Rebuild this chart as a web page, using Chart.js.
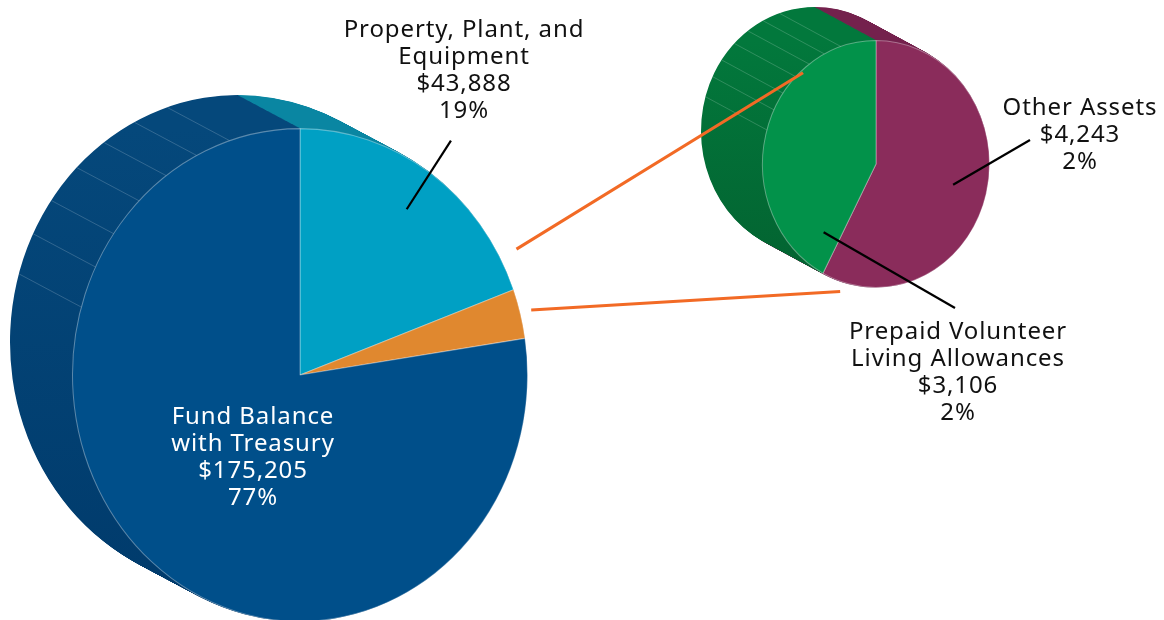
<!DOCTYPE html>
<html><head><meta charset="utf-8">
<script src="https://cdn.jsdelivr.net/npm/chart.js@4/dist/chart.umd.min.js"></script>
<style>
html,body{margin:0;padding:0;background:#fff;overflow:hidden;}
#wrap{position:relative;width:1164px;height:620px;}
canvas{position:absolute;left:0;top:0;}
</style></head><body>
<div id="wrap">
<canvas id="main" width="1164" height="620"></canvas>
<canvas id="sub" width="1164" height="620"></canvas>
</div>
<script>
// ---- data ----
const subCategories = ['Other Assets', 'Prepaid Volunteer Living Allowances'];
const subValues = [4243, 3106];
const subValueLabels = ['$4,243', '$3,106'];
const subPercentLabels = ['2%', '2%'];

const mainCategories = ['Property, Plant, and Equipment', 'Other', 'Fund Balance with Treasury'];
const mainValues = [43888, subValues.reduce((a, b) => a + b, 0), 175205];
const mainValueLabels = ['$43,888', '', '$175,205'];
const mainPercentLabels = ['19%', '', '77%'];

// ---- styles ----
const FONT = '24px "Noto Sans", sans-serif';
const LETTER_SPACING = '0.9px';
const LINE_H = 27;
const mainFront = ['#00a0c4', '#e0882f', '#004f8a'];
const mainSide = [['#0a86a2', '#007d99'], ['#c07020', '#b06518'], ['#05487b', '#003a6b']];
const subFront = ['#8a2c5b', '#02924a'];
const subSide = [['#74214d', '#6a1d46'], ['#02783c', '#036230']];
const facetAngles = [18, 27, 36, 45, 55, 64, 74];

function extrudePlugin(cfg) {
  return {
    id: 'extrude',
    beforeDatasetsDraw(chart) {
      const ctx = chart.ctx;
      const arcs = chart.getDatasetMeta(0).data;
      const a0 = arcs[0];
      const cx = a0.x, cy = a0.y, r = a0.outerRadius;
      ctx.save();
      ctx.translate(cx, cy); ctx.scale(1, cfg.sy); ctx.translate(-cx, -cy);
      const steps = Math.ceil(Math.hypot(cfg.dx, cfg.dy));
      const fills = cfg.side.map(c => {
        const g = ctx.createLinearGradient(0, cy - r, 0, cy + r);
        g.addColorStop(0, c[0]); g.addColorStop(1, c[1]);
        return g;
      });
      for (let s = steps; s >= 1; s--) {
        const ox = cfg.dx * s / steps, oy = cfg.dy * s / steps / cfg.sy;
        arcs.forEach((a, i) => {
          ctx.beginPath();
          ctx.moveTo(a.x + ox, a.y + oy);
          ctx.arc(a.x + ox, a.y + oy, a.outerRadius + 0.5, a.startAngle, a.endAngle);
          ctx.closePath();
          ctx.fillStyle = fills[i];
          ctx.fill();
        });
      }
      // facet lines on the side
      ctx.strokeStyle = 'rgba(255,255,255,0.22)';
      ctx.lineWidth = 0.8;
      facetAngles.forEach(d => {
        const ang = -Math.PI / 2 - d * Math.PI / 180;
        const px = cx + r * Math.cos(ang), py = cy + r * Math.sin(ang);
        ctx.beginPath();
        ctx.moveTo(px, py);
        ctx.lineTo(px + cfg.dx, py + cfg.dy / cfg.sy);
        ctx.stroke();
      });
    },
    afterDatasetsDraw(chart) { chart.ctx.restore(); }
  };
}

function drawLabel(ctx, lines, x, y, color) {
  ctx.save();
  ctx.font = FONT;
  if ('letterSpacing' in ctx) ctx.letterSpacing = LETTER_SPACING;
  ctx.fillStyle = color;
  ctx.textAlign = 'center';
  ctx.textBaseline = 'middle';
  lines.forEach((t, i) => ctx.fillText(t, x, y + i * LINE_H));
  ctx.restore();
}

// point on a (scaled) pie element at angle (radians, canvas convention) and radius factor
function piePoint(el, sy, ang, f) {
  return { x: el.x + el.outerRadius * f * Math.cos(ang), y: el.y + el.outerRadius * f * Math.sin(ang) * sy };
}

const MAIN_SY = 1.083, SUB_SY = 1.088;

const mainChart = new Chart(document.getElementById('main'), {
  type: 'pie',
  data: { labels: mainCategories, datasets: [{ data: mainValues, backgroundColor: mainFront, borderColor: 'rgba(255,255,255,0.35)', borderWidth: 1 }] },
  options: {
    responsive: false, animation: false, events: [], devicePixelRatio: 1,
    layout: { padding: { left: 72, top: 147, right: 636, bottom: 17 } },
    plugins: { legend: { display: false }, tooltip: { enabled: false } }
  },
  plugins: [extrudePlugin({ sy: MAIN_SY, dx: -62, dy: -33, side: mainSide }), {
    id: 'mainLabels',
    afterDraw(chart) {
      const ctx = chart.ctx;
      const arcs = chart.getDatasetMeta(0).data;
      // PP&E leader, radial at slice middle
      const pp = arcs[0];
      const mid = (pp.startAngle + pp.endAngle) / 2;
      const p1 = piePoint(pp, MAIN_SY, mid, 0.82), p2 = piePoint(pp, MAIN_SY, mid, 1.16);
      ctx.save();
      ctx.strokeStyle = '#000'; ctx.lineWidth = 2.2;
      ctx.beginPath(); ctx.moveTo(p1.x, p1.y); ctx.lineTo(p2.x, p2.y); ctx.stroke();
      ctx.restore();
      drawLabel(ctx, ['Property, Plant, and', 'Equipment', mainValueLabels[0], mainPercentLabels[0]], 464, 30, '#111');
      drawLabel(ctx, ['Fund Balance', 'with Treasury', mainValueLabels[2], mainPercentLabels[2]], 253, 417, '#fff');
    }
  }]
});

const subChart = new Chart(document.getElementById('sub'), {
  type: 'pie',
  data: { labels: subCategories, datasets: [{ data: subValues, backgroundColor: subFront, borderColor: 'rgba(255,255,255,0.35)', borderWidth: 1 }] },
  options: {
    responsive: false, animation: false, events: [], devicePixelRatio: 1,
    layout: { padding: { left: 762, top: 50, right: 174, bottom: 342 } },
    plugins: { legend: { display: false }, tooltip: { enabled: false } }
  },
  plugins: [extrudePlugin({ sy: SUB_SY, dx: -61, dy: -33, side: subSide }), {
    id: 'subLabels',
    afterDraw(chart) {
      const ctx = chart.ctx;
      const arcs = chart.getDatasetMeta(0).data;
      const other = arcs[0], prepaid = arcs[1];
      const deg = Math.PI / 180;
      ctx.save();
      // connector lines from the combined wedge of the main pie
      const w = mainChart.getDatasetMeta(0).data[1];
      const s1 = piePoint(w, MAIN_SY, w.startAngle - 8 * deg, 1.08);
      const s2 = piePoint(w, MAIN_SY, w.endAngle - 6 * deg, 1.05);
      const e1 = piePoint(prepaid, SUB_SY, -90 * deg - 41 * deg, 0.98);
      const e2 = piePoint(prepaid, SUB_SY, 90 * deg + 17 * deg, 1.08);
      ctx.strokeStyle = '#f26a25'; ctx.lineWidth = 3;
      ctx.beginPath(); ctx.moveTo(s1.x, s1.y); ctx.lineTo(e1.x, e1.y); ctx.stroke();
      ctx.beginPath(); ctx.moveTo(s2.x, s2.y); ctx.lineTo(e2.x, e2.y); ctx.stroke();
      // leader lines
      ctx.strokeStyle = '#000'; ctx.lineWidth = 2.2;
      const oMid = (other.startAngle + other.endAngle) / 2;
      const o1 = piePoint(other, SUB_SY, oMid, 0.7);
      ctx.beginPath(); ctx.moveTo(o1.x, o1.y); ctx.lineTo(1030, 140); ctx.stroke();
      const q1 = piePoint(prepaid, SUB_SY, prepaid.startAngle + 12 * deg, 0.72);
      ctx.beginPath(); ctx.moveTo(q1.x, q1.y); ctx.lineTo(955, 308); ctx.stroke();
      ctx.restore();
      drawLabel(ctx, ['Other Assets', subValueLabels[0], subPercentLabels[0]], 1080, 108, '#111');
      drawLabel(ctx, ['Prepaid Volunteer', 'Living Allowances', subValueLabels[1], subPercentLabels[1]], 958, 332, '#111');
    }
  }]
});
</script>
</body></html>
